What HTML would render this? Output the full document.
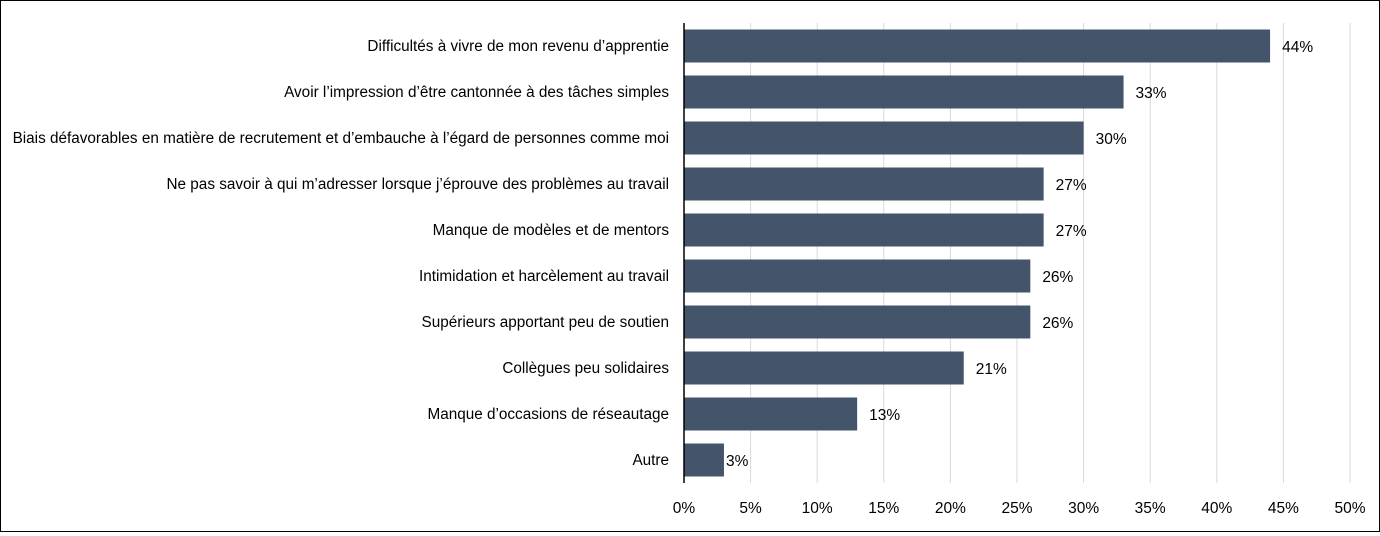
<!DOCTYPE html>
<html><head><meta charset="utf-8"><style>
body{margin:0;background:#fff;}
#chart{position:relative;width:1380px;height:532px;box-sizing:border-box;border:1px solid #000;font-family:"Liberation Sans",sans-serif;}
</style></head><body>
<div id="chart">
<svg id="svg" width="1378" height="530"></svg>
</div>
<script>
const categories=["Difficultés à vivre de mon revenu d’apprentie","Avoir l’impression d’être cantonnée à des tâches simples","Biais défavorables en matière de recrutement et d’embauche à l’égard de personnes comme moi","Ne pas savoir à qui m’adresser lorsque j’éprouve des problèmes au travail","Manque de modèles et de mentors","Intimidation et harcèlement au travail","Supérieurs apportant peu de soutien","Collègues peu solidaires","Manque d’occasions de réseautage","Autre"];
const values=[44,33,30,27,27,26,26,21,13,3];
const ticks=[0,5,10,15,20,25,30,35,40,45,50];
const svg=document.getElementById('svg');
const NS='http://www.w3.org/2000/svg';
const x0=683,x1=1349,yTop=22,yBot=482;
const xs=v=>x0+(x1-x0)*v/50;
const step=(yBot-yTop)/categories.length;
const yc=i=>yTop+step*(i+0.5);
function mk(t,a){const e=document.createElementNS(NS,t);for(const k in a)e.setAttribute(k,a[k]);svg.appendChild(e);return e;}
ticks.forEach(t=>{
 if(t>0){const g=mk('line',{x1:xs(t),x2:xs(t),y1:yTop,y2:yBot,stroke:'#d9d9d9','stroke-width':1});
 
 }
 const l=mk('text',{x:xs(t),y:512,'text-anchor':'middle','font-size':15.5,fill:'#000'});l.textContent=t+'%';
 
 
});
categories.forEach((c,i)=>{
 const b=mk('rect',{x:x0,y:yc(i)-16.5,width:xs(values[i])-x0,height:33,fill:'#44546a'});
 
 
 const t=mk('text',{x:668,y:yc(i)+5,'text-anchor':'end','font-size':15.3,fill:'#000'});t.textContent=c;
 
 
 const v=mk('text',{x:xs(values[i])+(values[i]<5?2:12),y:yc(i)+6,'font-size':15.5,fill:'#000'});v.textContent=values[i]+'%';
 
 
});
const ax=mk('line',{x1:x0,x2:x0,y1:yTop,y2:yBot,stroke:'#000','stroke-width':1.5});


</script>
</body></html>
